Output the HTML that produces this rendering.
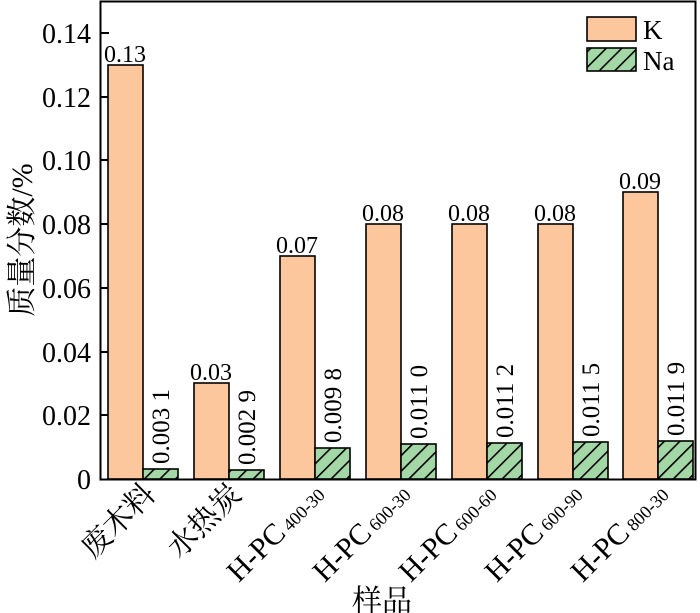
<!DOCTYPE html>
<html><head><meta charset="utf-8"><style>body{margin:0;background:#fff}svg{display:block}text{font-family:"Liberation Serif","Noto Serif CJK SC",serif;fill:#000}</style></head>
<body>
<svg width="700" height="613" viewBox="0 0 700 613">
<defs><pattern id="h" width="11" height="11" patternUnits="userSpaceOnUse" patternTransform="rotate(45)"><rect width="11" height="11" fill="#a3d8a6"/><line x1="0" y1="0" x2="0" y2="11" stroke="#000" stroke-width="3.2"/></pattern></defs>
<rect x="100.5" y="1.5" width="595" height="478" fill="none" stroke="#000" stroke-width="2"/>
<g font-size="28" text-anchor="end">
<text x="91" y="489">0</text><text x="91" y="425">0.02</text><text x="91" y="362">0.04</text><text x="91" y="298">0.06</text><text x="91" y="234">0.08</text><text x="91" y="170">0.10</text><text x="91" y="107">0.12</text><text x="91" y="43">0.14</text>
</g>
<g stroke="#000" stroke-width="2">
<line x1="100" y1="415" x2="109" y2="415"/><line x1="100" y1="352" x2="109" y2="352"/><line x1="100" y1="288" x2="109" y2="288"/><line x1="100" y1="224" x2="109" y2="224"/><line x1="100" y1="160" x2="109" y2="160"/><line x1="100" y1="97" x2="109" y2="97"/><line x1="100" y1="33" x2="109" y2="33"/>
</g>
<g stroke="#000" stroke-width="1.6">
<rect x="108" y="65" width="35" height="414" fill="#fdc79e"/><rect x="143" y="469" width="35" height="10" fill="url(#h)"/>
<rect x="194" y="383" width="35" height="96" fill="#fdc79e"/><rect x="229" y="470" width="35" height="9" fill="url(#h)"/>
<rect x="280" y="256" width="35" height="223" fill="#fdc79e"/><rect x="315" y="448" width="35" height="31" fill="url(#h)"/>
<rect x="366" y="224" width="35" height="255" fill="#fdc79e"/><rect x="401" y="444" width="35" height="35" fill="url(#h)"/>
<rect x="452" y="224" width="35" height="255" fill="#fdc79e"/><rect x="487" y="443" width="35" height="36" fill="url(#h)"/>
<rect x="538" y="224" width="35" height="255" fill="#fdc79e"/><rect x="573" y="442" width="35" height="37" fill="url(#h)"/>
<rect x="623" y="192" width="35" height="287" fill="#fdc79e"/><rect x="658" y="441" width="35" height="38" fill="url(#h)"/>
<rect x="587" y="17" width="49" height="24" fill="#fdc79e"/><rect x="587" y="48" width="49" height="23" fill="url(#h)"/>
</g>
<g font-size="27"><text x="643" y="39">K</text><text x="643" y="70">Na</text></g>
<g font-size="24" text-anchor="middle">
<text x="125" y="62">0.13</text><text x="211" y="380">0.03</text><text x="297" y="253">0.07</text><text x="383" y="221">0.08</text><text x="469" y="221">0.08</text><text x="555" y="221">0.08</text><text x="640" y="189">0.09</text>
</g>
<g font-size="25" text-anchor="start">
<text transform="translate(169,464) rotate(-90)">0.003 1</text>
<text transform="translate(255,465) rotate(-90)">0.002 9</text>
<text transform="translate(341,443) rotate(-90)">0.009 8</text>
<text transform="translate(427,439) rotate(-90)">0.011 0</text>
<text transform="translate(513,438) rotate(-90)">0.011 2</text>
<text transform="translate(599,437) rotate(-90)">0.011 5</text>
<text transform="translate(684,436) rotate(-90)">0.011 9</text>
</g>
<g font-size="30" text-anchor="end">
<text transform="translate(157,496) rotate(-45)">废木料</text>
<text transform="translate(243,496) rotate(-45)">水热炭</text>
<text transform="translate(326,496) rotate(-45)">H-PC<tspan font-size="18" dx="4">400-30</tspan></text>
<text transform="translate(412,496) rotate(-45)">H-PC<tspan font-size="18" dx="4">600-30</tspan></text>
<text transform="translate(498,496) rotate(-45)">H-PC<tspan font-size="18" dx="4">600-60</tspan></text>
<text transform="translate(584,496) rotate(-45)">H-PC<tspan font-size="18" dx="4">600-90</tspan></text>
<text transform="translate(670,496) rotate(-45)">H-PC<tspan font-size="18" dx="4">800-30</tspan></text>
</g>
<text x="382" y="611" font-size="30" text-anchor="middle">样品</text>
<text transform="translate(32,240) rotate(-90)" font-size="30" text-anchor="middle">质量分数/%</text>
</svg>
</body></html>
